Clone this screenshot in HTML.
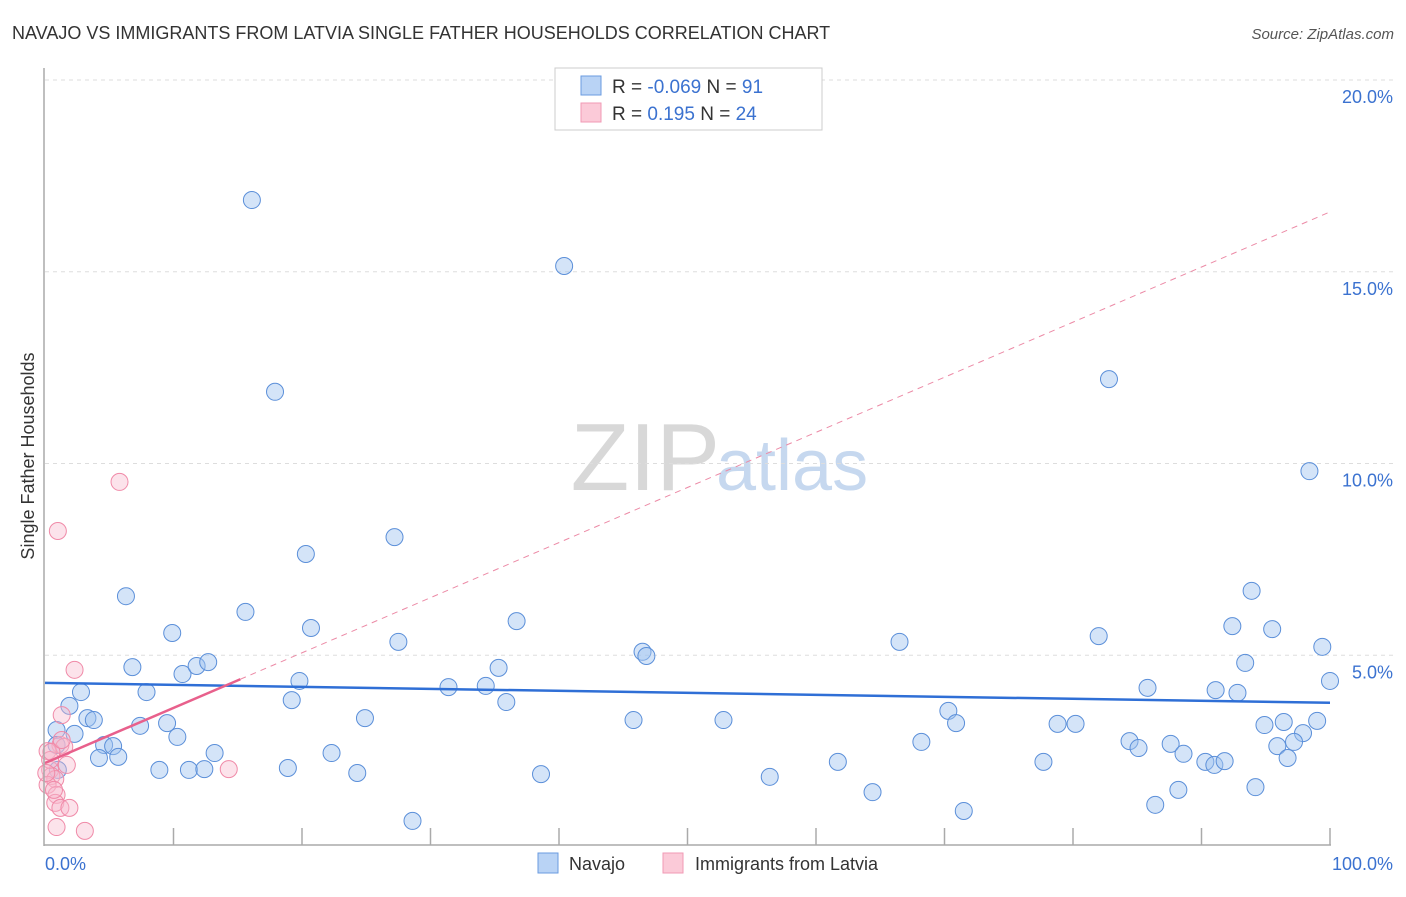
<!DOCTYPE html>
<html><head><meta charset="utf-8"><style>
body{margin:0;background:#fff;font-family:"Liberation Sans",sans-serif}
svg text{font-family:"Liberation Sans",sans-serif}
</style></head><body>
<svg id="c" width="1406" height="892" xmlns="http://www.w3.org/2000/svg">
<text x="12" y="39" font-size="18" fill="#333">NAVAJO VS IMMIGRANTS FROM LATVIA SINGLE FATHER HOUSEHOLDS CORRELATION CHART</text>
<text x="1394" y="39" font-size="15" fill="#555" text-anchor="end" font-style="italic">Source: ZipAtlas.com</text>
<text x="720" y="490" font-size="96" fill="#d8d8d8" text-anchor="end" font-family="Liberation Serif">ZIP</text>
<text x="716" y="490" font-size="72" fill="#c6d8ef">atlas</text>
<text transform="translate(34,456) rotate(-90)" font-size="18" fill="#333" text-anchor="middle">Single Father Households</text>
<g id="grid"></g><g id="pts"></g><g id="trends"></g>
<line x1="44" y1="68" x2="44" y2="846" stroke="#aaa" stroke-width="1.5"/>
<line x1="44" y1="845" x2="1331" y2="845" stroke="#aaa" stroke-width="1.5"/>
<text x="45" y="870" font-size="18" fill="#3b72d0">0.0%</text>
<text x="1393" y="870" font-size="18" fill="#3b72d0" text-anchor="end">100.0%</text>
<g>
<rect x="555" y="68" width="267" height="62" fill="#fff" stroke="#ccc"/>
<rect x="581" y="76" width="20" height="19" fill="#b9d3f5" stroke="#6a9be0"/>
<rect x="581" y="103" width="20" height="19" fill="#fbcad8" stroke="#f09ab5"/>
<text x="612" y="93" font-size="19" fill="#333">R = <tspan fill="#3b72d0">-0.069</tspan>   N = <tspan fill="#3b72d0"> 91</tspan></text>
<text x="612" y="120" font-size="19" fill="#333">R = <tspan fill="#3b72d0">  0.195</tspan>   N = <tspan fill="#3b72d0">24</tspan></text>
</g>
<g>
<rect x="538" y="853" width="20" height="20" fill="#b9d3f5" stroke="#6a9be0"/>
<text x="569" y="870" font-size="18" fill="#333">Navajo</text>
<rect x="663" y="853" width="20" height="20" fill="#fbcad8" stroke="#f09ab5"/>
<text x="695" y="870" font-size="18" fill="#333">Immigrants from Latvia</text>
</g>
</svg>
<script>
const yTicks=[5,10,15,20];
const yTickLabels=["5.0%","10.0%","15.0%","20.0%"];
const xTicks=[10,20,30,40,50,60,70,80,90,100];
const navajoX=[16.1,40.4,17.9,82.8,98.4,27.2,20.3,6.3,15.6,36.7,9.9,20.7,27.5,46.5,46.8,66.5,82.0,92.4,95.5,93.9,99.4,93.4,100,6.8,10.7,11.8,12.7,19.8,35.3,2.8,7.9,19.2,31.4,34.3,35.9,85.8,91.1,92.8,1.9,3.3,3.8,7.4,9.5,10.3,24.9,45.8,52.8,70.3,70.9,78.8,80.2,94.9,96.4,99.0,97.9,2.3,0.9,4.6,5.3,5.7,4.2,13.2,22.3,84.4,85.1,87.6,88.6,90.3,91.0,91.8,95.9,97.2,96.7,68.2,8.9,11.2,12.4,18.9,24.3,38.6,56.4,61.7,77.7,64.4,88.2,86.4,94.2,71.5,28.6,0.9,1.0];
const navajoY=[16.87,15.15,11.87,12.2,9.8,8.08,7.64,6.54,6.13,5.89,5.58,5.71,5.35,5.09,4.98,5.35,5.5,5.76,5.68,6.68,5.22,4.8,4.33,4.69,4.51,4.72,4.82,4.33,4.67,4.04,4.04,3.83,4.17,4.2,3.78,4.15,4.09,4.02,3.68,3.36,3.31,3.16,3.23,2.87,3.36,3.31,3.31,3.55,3.23,3.21,3.21,3.18,3.26,3.29,2.97,2.95,3.05,2.66,2.63,2.35,2.32,2.45,2.45,2.76,2.58,2.69,2.43,2.22,2.14,2.24,2.63,2.74,2.32,2.74,2.01,2.01,2.03,2.06,1.93,1.9,1.83,2.22,2.22,1.43,1.49,1.1,1.56,0.94,0.68,2.66,2.01];
const latviaX=[5.8,1.0,2.3,1.3,1.2,1.5,0.2,1.7,14.3,0.4,0.5,0.8,0.2,0.9,0.8,1.2,1.9,0.9,3.1,0.4,0.5,0.7,0.1,1.3];
const latviaY=[9.52,8.24,4.62,3.44,2.66,2.61,2.5,2.14,2.03,2.01,1.85,1.77,1.62,1.36,1.15,1.02,1.02,0.52,0.42,2.27,2.48,1.49,1.93,2.79];
const navajoTrend=[4.28,3.76];
const latviaTrend=[2.19,16.56];
const latviaSolidEnd=15.2;
const NS="http://www.w3.org/2000/svg";
const X=v=>45+v*12.85, Y=v=>847-v*38.35;
function mk(tag,attrs,parent){const e=document.createElementNS(NS,tag);for(const k in attrs)e.setAttribute(k,attrs[k]);parent.appendChild(e);return e;}
const grid=document.getElementById('grid');
yTicks.forEach((t,i)=>{
 const l=mk('line',{x1:45,x2:1393,y1:Y(t),y2:Y(t),stroke:'#ddd','stroke-dasharray':'4,4'},grid);
 
 
 const tx=mk('text',{x:1393,y:Y(t)+23,'font-size':18,fill:'#3b72d0','text-anchor':'end'},grid);
 tx.textContent=yTickLabels[i];
 
 
});
xTicks.forEach(t=>{
 const l=mk('line',{x1:X(t),x2:X(t),y1:828,y2:845,stroke:'#aaa','stroke-width':1.5},grid);
 
 
});
const pts=document.getElementById('pts');
navajoX.forEach((x,i)=>{
 const c=mk('circle',{cx:X(x),cy:Y(navajoY[i]),r:8.5,fill:'rgba(160,195,240,0.45)',stroke:'#5b8fd9','stroke-width':1},pts);
 
 
});
latviaX.forEach((x,i)=>{
 const c=mk('circle',{cx:X(x),cy:Y(latviaY[i]),r:8.5,fill:'rgba(248,185,205,0.4)',stroke:'#f08aa8','stroke-width':1},pts);
 
 
});
const tr=document.getElementById('trends');
const lb=mk('line',{x1:X(0),y1:Y(navajoTrend[0]),x2:X(100),y2:Y(navajoTrend[1]),stroke:'#2f6fd6','stroke-width':2.5},tr);


const lp=v=>latviaTrend[0]+(latviaTrend[1]-latviaTrend[0])*v/100;
const ld=mk('line',{x1:X(latviaSolidEnd),y1:Y(lp(latviaSolidEnd)),x2:X(100),y2:Y(lp(100)),stroke:'#ec8aa6','stroke-width':1,'stroke-dasharray':'6,5'},tr);


const ls=mk('line',{x1:X(0),y1:Y(lp(0)),x2:X(latviaSolidEnd),y2:Y(lp(latviaSolidEnd)),stroke:'#e8608c','stroke-width':2.5},tr);


</script>
</body></html>
